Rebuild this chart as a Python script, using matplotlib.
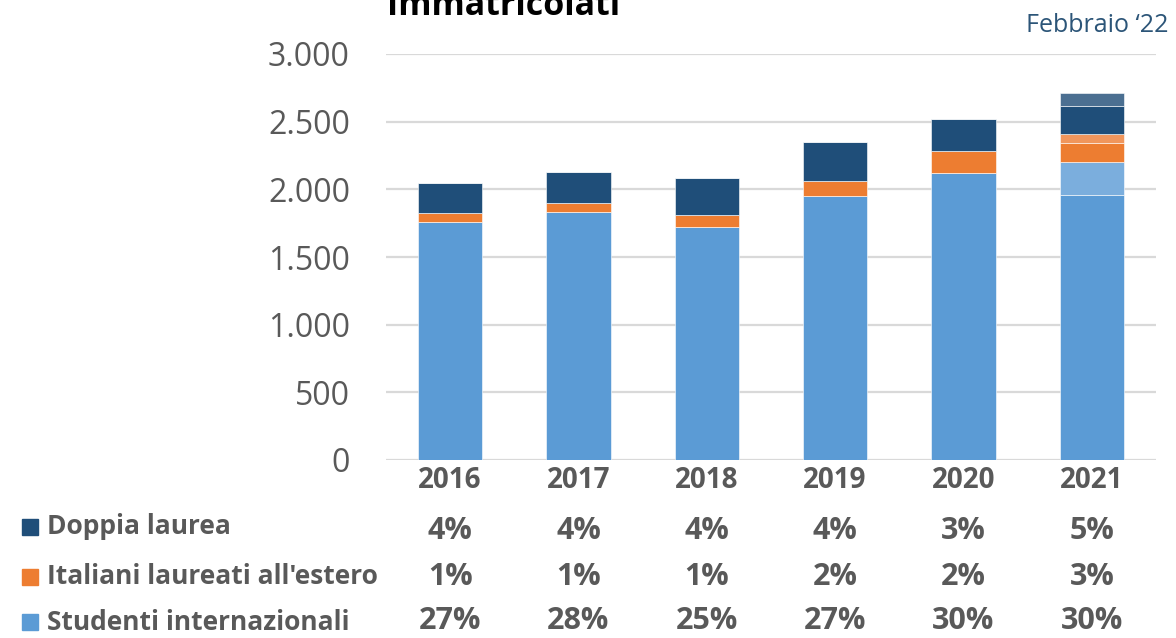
import matplotlib
matplotlib.use("Agg")
import matplotlib.pyplot as plt
import matplotlib.patches as mpatches
from matplotlib.transforms import blended_transform_factory
import numpy as np

plt.rcParams['font.family'] = ['Open Sans', 'DejaVu Sans']

# data
anni = ['2016', '2017', '2018', '2019', '2020', '2021']
studenti_int = [1759, 1833, 1722, 1951, 2121, 1958]
studenti_int_extra = [0, 0, 0, 0, 0, 244]
italiani_estero = [66, 66, 89, 111, 163, 141]
italiani_estero_extra = [0, 0, 0, 0, 0, 66]
doppia_laurea = [222, 229, 273, 288, 236, 207]
doppia_laurea_extra = [0, 0, 0, 0, 0, 96]

perc_doppia = ['4%', '4%', '4%', '4%', '3%', '5%']
perc_italiani = ['1%', '1%', '1%', '2%', '2%', '3%']
perc_studenti = ['27%', '28%', '25%', '27%', '30%', '30%']

serie_nomi = ['Doppia laurea', "Italiani laureati all'estero", 'Studenti internazionali']

c_blue, c_blue_l = '#5B9BD5', '#7BAEDD'
c_orange, c_orange_l = '#ED7D31', '#F0965C'
c_dark, c_dark_l = '#1F4E79', '#4B6F91'
grey_txt = '#595959'

fig = plt.figure(figsize=(11.76, 6.38), dpi=100)
ax = fig.add_axes([386/1176, 1-460/638, 770/1176, 406/638])

x = np.arange(len(anni))
w = 0.5
layers = [(studenti_int, c_blue), (studenti_int_extra, c_blue_l),
          (italiani_estero, c_orange), (italiani_estero_extra, c_orange_l),
          (doppia_laurea, c_dark), (doppia_laurea_extra, c_dark_l)]
bottom = np.zeros(len(anni))
for vals, col in layers:
    vals = np.array(vals, dtype=float)
    ax.bar(x, vals, w, bottom=bottom, color=col, edgecolor='#FFFFFF', linewidth=0.4, zorder=3)
    bottom += vals

ax.set_xlim(-0.5, len(anni) - 0.5)
ax.set_ylim(0, 3000)
ax.set_yticks(np.arange(0, 3001, 500))
ax.set_yticklabels(['0', '500', '1.000', '1.500', '2.000', '2.500', '3.000'])
ax.yaxis.grid(True, color='#D9D9D9', linewidth=1.6, zorder=0)
ax.set_axisbelow(True)
for s in ax.spines.values():
    s.set_visible(False)
ax.tick_params(axis='y', length=0, pad=26, labelsize=23, labelcolor=grey_txt)
ax.set_xticks(x)
ax.set_xticklabels(anni, fontsize=20, fontweight='bold', color=grey_txt)
ax.tick_params(axis='x', length=0, pad=4)

# percent table under the axis
tr = blended_transform_factory(ax.transData, fig.transFigure)
rows = [(perc_doppia, 531), (perc_italiani, 577), (perc_studenti, 621)]
for labels, ypx in rows:
    for xi, lab in zip(x, labels):
        ax.text(xi, 1 - ypx/638, lab, transform=tr, ha='center', va='center',
                fontsize=22, fontweight='bold', color=grey_txt)

# legend on the left
leg_cols = [c_dark, c_orange, c_blue]
leg_y = [527, 577, 622]
for nome, col, ypx in zip(serie_nomi, leg_cols, leg_y):
    fig.patches.append(mpatches.Rectangle((22/1176, 1-(ypx+8)/638), 16/1176, 16/638,
                                          transform=fig.transFigure, color=col))
    fig.text(47/1176, 1 - ypx/638, nome, ha='left', va='center',
             fontsize=19, fontweight='bold', color=grey_txt)

fig.text(387/1176, 1 - 15/638, 'Immatricolati', ha='left', va='baseline',
         fontsize=24.5, fontweight='bold', color='black')
fig.text(1168/1176, 1 - 26/638, 'Febbraio \u201822', ha='right', va='center',
         fontsize=18, color='#2C5578')

fig.savefig('out.png', dpi=100)
